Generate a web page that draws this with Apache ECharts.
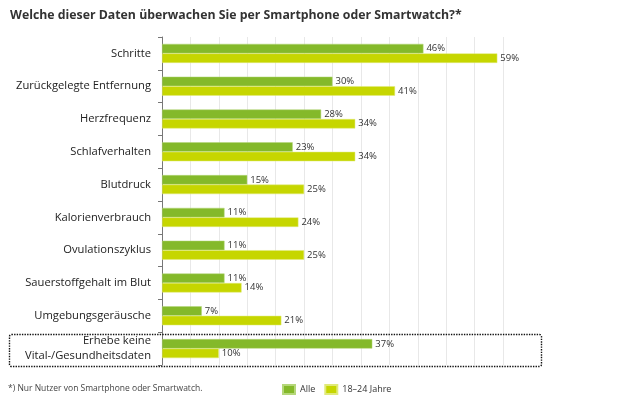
<!DOCTYPE html>
<html><head><meta charset="utf-8">
<script src="https://cdn.jsdelivr.net/npm/echarts@6/dist/echarts.min.js"></script>
<style>html,body{margin:0;padding:0;background:#fff}#c{width:630px;height:401px}</style>
</head><body><div id="c"></div>
<script>
const categories = ["Schritte","Zurückgelegte Entfernung","Herzfrequenz","Schlafverhalten","Blutdruck","Kalorienverbrauch","Ovulationszyklus","Sauerstoffgehalt im Blut","Umgebungsgeräusche","Erhebe keine\nVital-/Gesundheitsdaten"];
const alle = [46,30,28,23,15,11,11,11,7,37];
const jung = [59,41,34,34,25,24,25,14,21,10];
const seriesNames = ["Alle","18–24 Jahre"];
const FONT = "'Open Sans', sans-serif";
const chart = echarts.init(document.getElementById('c'), null, {renderer:'canvas'});
const lbl = {show:true, position:'right', distance:3, formatter:'{c}%', color:'#333', fontSize:9.5, fontFamily:FONT};
chart.setOption({
  animation:false,
  textStyle:{fontFamily:FONT},
  title:{text:'Welche dieser Daten überwachen Sie per Smartphone oder Smartwatch?*', left:5, top:4,
    textStyle:{fontSize:12.3, fontWeight:'bold', color:'#333', fontFamily:FONT}},
  legend:{data:seriesNames, left:277, top:379, itemWidth:12, itemHeight:9, itemGap:9,
    icon:'rect', textStyle:{fontSize:9, color:'#333', fontFamily:FONT}},
  grid:{left:162, right:127, top:37, bottom:36, containLabel:false},
  xAxis:{type:'value', min:0, max:60, interval:5, axisLabel:{show:false}, axisLine:{show:false}, axisTick:{show:false},
    splitLine:{lineStyle:{color:'#e8e8e8', width:1}}},
  yAxis:{type:'category', data:categories, inverse:true,
    axisLine:{lineStyle:{color:'#777', width:1}},
    axisTick:{show:true, length:4, lineStyle:{color:'#777'}},
    axisLabel:{margin:11, color:'#222', fontSize:11.2, lineHeight:15, fontFamily:FONT}},
  series:[
    {name:seriesNames[0], type:'bar', data:alle, barGap:'0%', barCategoryGap:'42%',
      itemStyle:{color:'#84b92a', borderColor:'#b5d77a', borderWidth:0.5}, label:lbl},
    {name:seriesNames[1], type:'bar', data:jung,
      itemStyle:{color:'#c6d600', borderColor:'#e0ea7a', borderWidth:0.5}, label:lbl}
  ],
  graphic:[
    {type:'rect', shape:{x:9.5, y:334.5, width:532, height:32, r:2}, style:{fill:'none', stroke:'#111', lineWidth:1.4, lineDash:[1.4,1.2]}, z:10},
    {type:'text', left:8, top:384, style:{text:'*) Nur Nutzer von Smartphone oder Smartwatch.', fontSize:8.5, fill:'#444', fontFamily:FONT}}
  ]
});
</script></body></html>
